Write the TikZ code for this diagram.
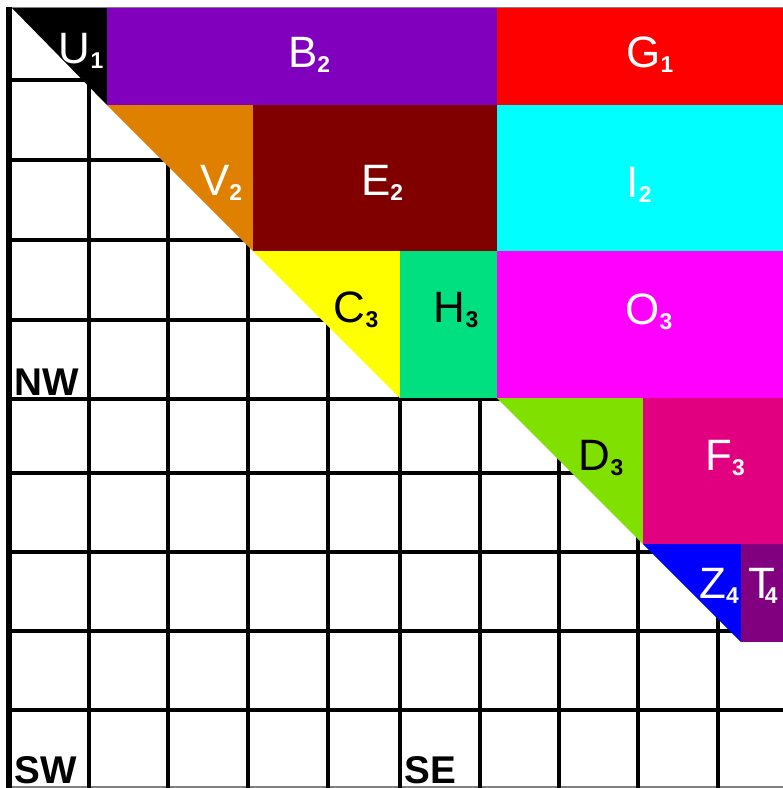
\documentclass[tikz,border=0pt]{standalone}
\usepackage{fontspec}
\setmainfont{Liberation Sans}
\usepackage{tikz}

% colours of the blocks
\definecolor{bpurple}{RGB}{128,0,190}
\definecolor{gred}{RGB}{255,0,0}
\definecolor{vorange}{RGB}{224,128,0}
\definecolor{emaroon}{RGB}{128,0,0}
\definecolor{icyan}{RGB}{0,255,255}
\definecolor{cyellow}{RGB}{255,255,0}
\definecolor{hgreen}{RGB}{0,224,128}
\definecolor{omagenta}{RGB}{255,0,255}
\definecolor{dgreen}{RGB}{128,224,0}
\definecolor{fpink}{RGB}{224,0,128}
\definecolor{zblue}{RGB}{0,0,255}
\definecolor{tpurple}{RGB}{128,0,128}

% block label: big letter with a small lowered index
\newcommand{\blk}[2]{{\fontsize{25}{25}\selectfont #1}\raisebox{-3pt}{\fontsize{13}{13}\selectfont\bfseries #2}}

\begin{document}
\begin{tikzpicture}[x=0.02cm, y=-0.02cm,
    gridline/.style={line width=2pt, black},
    lab/.style={inner sep=0pt, anchor=base},
    corner/.style={inner sep=0pt, anchor=base west, font=\fontsize{22}{22}\selectfont\bfseries}]
        \useasboundingbox (0,0) rectangle (783,788);
        \fill[white] (0,0) rectangle (783,788);

        % grid of the whole square
        \draw[gray, line width=0.8pt] (6,7.5) -- (783,7.5);
        \draw[gray, line width=0.8pt] (6,787) -- (783,787);
        \draw[line width=3.2pt] (9,7) -- (9,788);
        \draw[gridline] (89,8) -- (89,788);
        \draw[gridline] (168,8) -- (168,788);
        \draw[gridline] (248,8) -- (248,788);
        \draw[gridline] (328,8) -- (328,788);
        \draw[gridline] (400,8) -- (400,788);
        \draw[gridline] (480,8) -- (480,788);
        \draw[gridline] (559,8) -- (559,788);
        \draw[gridline] (638,8) -- (638,788);
        \draw[gridline] (718,8) -- (718,788);
        \draw[gridline] (9,80) -- (783,80);
        \draw[gridline] (9,160) -- (783,160);
        \draw[gridline] (9,240) -- (783,240);
        \draw[gridline] (9,320) -- (783,320);
        \draw[gridline] (9,399) -- (783,399);
        \draw[gridline] (9,473) -- (783,473);
        \draw[gridline] (9,552) -- (783,552);
        \draw[gridline] (9,631) -- (783,631);
        \draw[gridline] (9,710) -- (783,710);

        % level 1 and 2 blocks
        \fill[black] (12,8) -- (107,8) -- (107,105) -- cycle;
        \fill[bpurple] (107,8) rectangle (497,105);
        \fill[gred] (497,8) rectangle (783,105);
        \fill[vorange] (107,105) -- (253,105) -- (253,251) -- cycle;
        \fill[emaroon] (253,105) rectangle (497,251);
        \fill[icyan] (497,105) rectangle (783,251);

        % level 3 blocks
        \fill[cyellow] (253,251) -- (400,251) -- (400,398) -- cycle;
        \fill[hgreen] (400,251) rectangle (497,398);
        \fill[omagenta] (497,251) rectangle (783,398);
        \fill[dgreen] (497,398) -- (643,398) -- (643,544) -- cycle;
        \fill[fpink] (643,398) rectangle (783,544);

        % level 4 blocks
        \fill[zblue] (643,544) -- (741,544) -- (741,642) -- cycle;
        \fill[tpurple] (741,544) rectangle (783,642);

        % block names
        \node[lab, text=white] (u1) at (81,63) {\blk{U}{1}};
        \node[lab, text=white] (b2) at (309,67) {\blk{B}{2}};
        \node[lab, text=white] (g1) at (650,67) {\blk{G}{1}};
        \node[lab, text=white] (v2) at (221,195) {\blk{V}{2}};
        \node[lab, text=white] (e2) at (382,195) {\blk{E}{2}};
        \node[lab, text=white] (i2) at (639,197) {\blk{I}{2}};
        \node[lab] (c3) at (356,322) {\blk{C}{3}};
        \node[lab] (h3) at (456,322) {\blk{H}{3}};
        \node[lab, text=white] (o3) at (649,324) {\blk{O}{3}};
        \node[lab] (d3) at (601,470) {\blk{D}{3}};
        \node[lab, text=white] (f3) at (725,470) {\blk{F}{3}};
        \node[lab, text=white] (z4) at (719,598) {\blk{Z}{4}};
        \node[lab, text=white] (t4) at (763,598) {\blk{T\kern-6pt}{4}};

        % corner names
        \node[corner] (nw) at (14,395) {NW};
        \node[corner] (sw) at (14,783) {SW};
        \node[corner] (se) at (404,783) {SE};
    \end{tikzpicture}
\end{document}
